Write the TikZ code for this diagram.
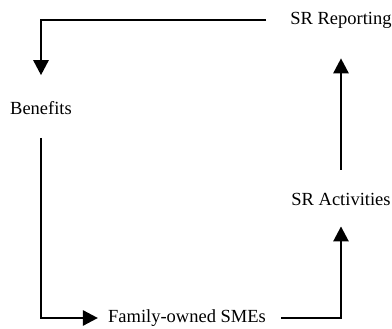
\documentclass[tikz,border=0pt]{standalone}
\usepackage{fontspec}
\setmainfont{Liberation Serif}
\usepackage{tikz}
\usetikzlibrary{arrows.meta}

\begin{document}
\begin{tikzpicture}[x=1pt, y=-1pt, every node/.style={font=\fontsize{18.5}{22}\selectfont, inner sep=0pt},
  flow/.style={line width=2.6pt, -{Triangle[width=15pt,length=15pt]}}]
\useasboundingbox (0,0) rectangle (392,329);
% Cycle
\node (report) at (341,20) {SR Reporting};
\node (benefit) at (41,108) {Benefits};
\node (sme) at (187,318) {Family-owned SMEs};
\node (activity) at (341,199) {SR Activities};
\draw[flow, shorten <=24pt, shorten >=26pt] (report.west) -| (benefit.north);
\draw[flow, shorten <=23pt, shorten >=10pt] (benefit.south) |- (sme.west);
\draw[flow, shorten <=15pt, shorten >=21pt] (sme.east) -| (activity.south);
\draw[flow, shorten <=23pt, shorten >=30pt] (activity.north) -- (report.south);
\end{tikzpicture}
\end{document}
